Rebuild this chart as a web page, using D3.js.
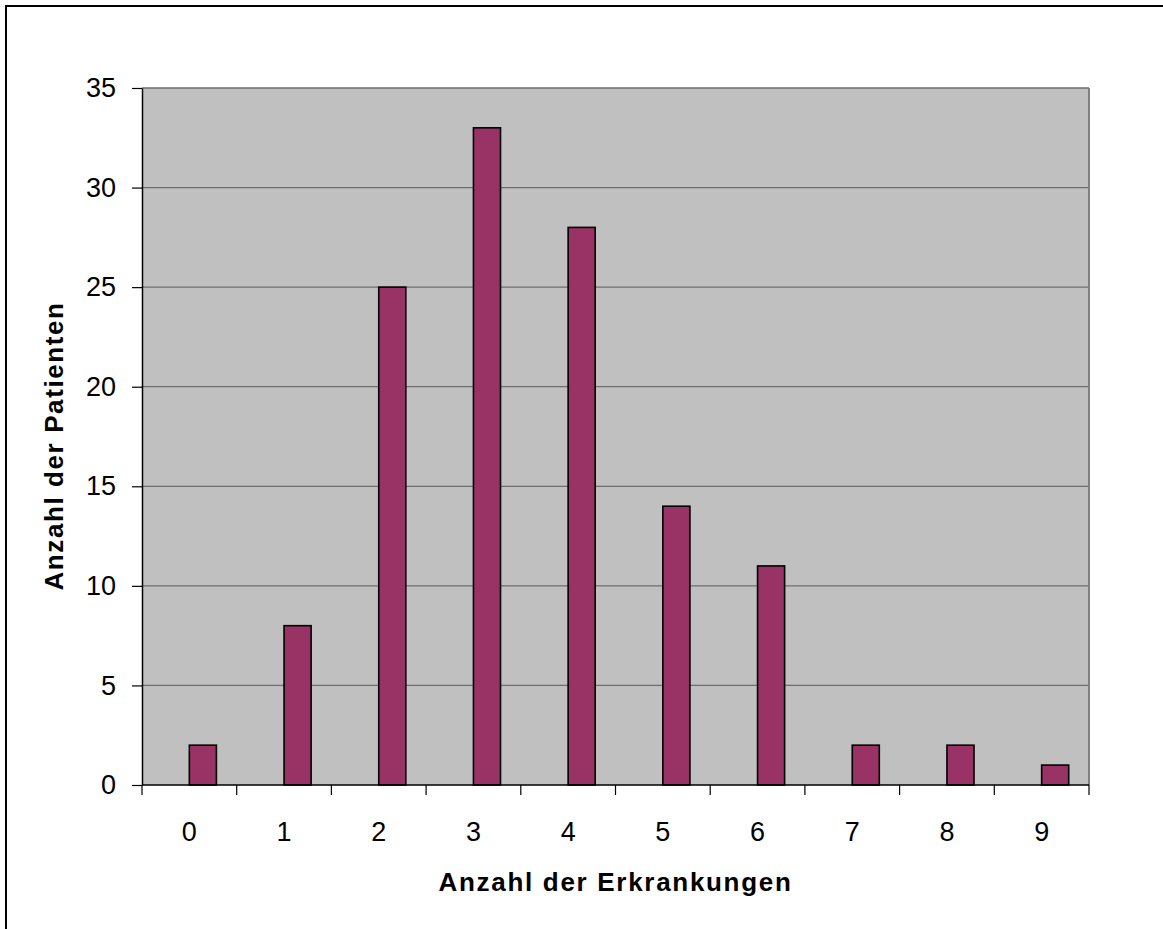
<!DOCTYPE html>
<html>
<head>
<meta charset="utf-8">
<script src="https://cdn.jsdelivr.net/npm/d3@7"></script>
<style>
  html, body { margin: 0; padding: 0; background: #fff; }
  svg { display: block; }
  text { font-family: Arial, "Liberation Sans", sans-serif; fill: #000; }
</style>
</head>
<body>
<svg id="chart" width="1163" height="929"></svg>
<script>
// Anzahl der Erkrankungen je Patient
const categories = ["0", "1", "2", "3", "4", "5", "6", "7", "8", "9"];
// Two series slots per category; the first one is empty, the second holds the counts
const seriesNames = ["leer", "Patienten"];
const patients = [2, 8, 25, 33, 28, 14, 11, 2, 2, 1];
const yTicks = [0, 5, 10, 15, 20, 25, 30, 35];
const xTitle = "Anzahl der Erkrankungen";
const yTitle = "Anzahl der Patienten";

const svg = d3.select("#chart");
const plot = { left: 142, top: 88, right: 1089, bottom: 785 };

// Outer chart frame
svg.append("rect")
  .attr("x", 6).attr("y", 6)
  .attr("width", 1200).attr("height", 1000)
  .attr("fill", "none").attr("stroke", "#000").attr("stroke-width", 2);

const x0 = d3.scaleBand().domain(categories).range([plot.left, plot.right]).padding(0);
const x1 = d3.scaleBand().domain(seriesNames).range([0, x0.bandwidth()])
  .paddingInner(0).paddingOuter(0.75);
const y = d3.scaleLinear().domain([0, 35]).range([plot.bottom, plot.top]);

// Plot background
svg.append("rect")
  .attr("x", plot.left).attr("y", plot.top)
  .attr("width", plot.right - plot.left).attr("height", plot.bottom - plot.top)
  .attr("fill", "#c0c0c0");

// Horizontal gridlines
svg.append("g").selectAll("line")
  .data(yTicks.filter(d => d > 0))
  .join("line")
  .attr("x1", plot.left).attr("x2", plot.right)
  .attr("y1", d => y(d)).attr("y2", d => y(d))
  .attr("stroke", "#6e6e6e").attr("stroke-width", 1.3);

// Right border of the plot area
svg.append("line")
  .attr("x1", plot.right).attr("x2", plot.right)
  .attr("y1", plot.top).attr("y2", plot.bottom)
  .attr("stroke", "#808080").attr("stroke-width", 2);

// Bars
svg.append("g").selectAll("rect")
  .data(patients)
  .join("rect")
  .attr("x", (d, i) => x0(categories[i]) + x1("Patienten"))
  .attr("y", d => y(d))
  .attr("width", x1.bandwidth())
  .attr("height", d => y(0) - y(d))
  .attr("fill", "#993366")
  .attr("stroke", "#000").attr("stroke-width", 1.6);

// Y axis
const yAxis = svg.append("g")
  .attr("transform", `translate(${plot.left},0)`)
  .call(d3.axisLeft(y).tickValues(yTicks).tickSize(10).tickPadding(16).tickSizeOuter(0));
yAxis.select(".domain").attr("stroke", "#000").attr("stroke-width", 1.5);
yAxis.selectAll(".tick line").attr("stroke", "#000").attr("stroke-width", 1.2);
yAxis.selectAll(".tick text")
  .attr("font-size", 27).attr("font-family", "Arial, 'Liberation Sans', sans-serif")
  .attr("fill", "#000");

// X axis: ticks on category boundaries, labels at category centres
const xAxis = svg.append("g")
  .attr("transform", `translate(0,${plot.bottom})`);
xAxis.append("line")
  .attr("x1", plot.left).attr("x2", plot.right)
  .attr("stroke", "#000").attr("stroke-width", 1.5);
const boundaries = categories.map(c => x0(c)).concat([x0(categories[categories.length - 1]) + x0.bandwidth()]);
xAxis.selectAll("line.tick")
  .data(boundaries)
  .join("line")
  .attr("class", "tick")
  .attr("x1", d => d).attr("x2", d => d)
  .attr("y1", 0).attr("y2", 10)
  .attr("stroke", "#000").attr("stroke-width", 1.2);
xAxis.selectAll("text")
  .data(categories)
  .join("text")
  .attr("x", d => x0(d) + x0.bandwidth() / 2)
  .attr("y", 47)
  .attr("dy", "0.35em")
  .attr("text-anchor", "middle")
  .attr("font-size", 27)
  .text(d => d);

// Axis titles
svg.append("text")
  .attr("x", (plot.left + plot.right) / 2)
  .attr("y", 891)
  .attr("text-anchor", "middle")
  .attr("font-size", 26).attr("font-weight", "bold")
  .attr("letter-spacing", 1.7)
  .text(xTitle);

svg.append("text")
  .attr("transform", `translate(63,446) rotate(-90)`)
  .attr("text-anchor", "middle")
  .attr("font-size", 26).attr("font-weight", "bold")
  .attr("letter-spacing", 1.6)
  .text(yTitle);
</script>
</body>
</html>
